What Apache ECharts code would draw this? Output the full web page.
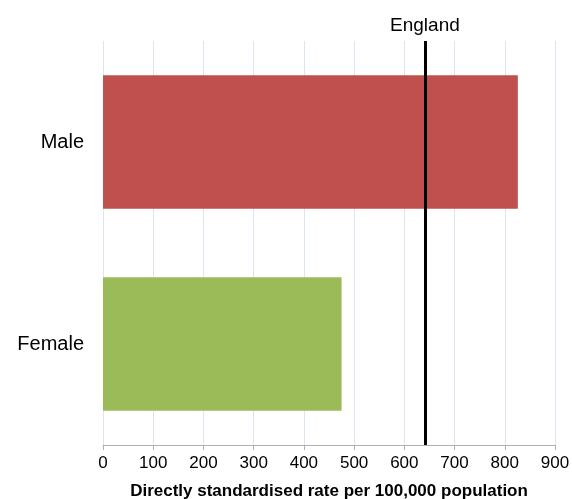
<!DOCTYPE html>
<html>
<head>
<meta charset="utf-8">
<script src="https://cdn.jsdelivr.net/npm/echarts@6/dist/echarts.min.js"></script>
<style>html,body{margin:0;padding:0;background:#fff}#c{width:572px;height:499px}</style>
</head>
<body>
<div id="c"></div>
<script>
var categories = ['Female', 'Male'];
var values = [475, 826];
var barColors = ['#9BBB59', '#C0504D'];
var englandValue = 641;
var englandLabel = 'England';
var axisName = 'Directly standardised rate per 100,000 population';

var chart = echarts.init(document.getElementById('c'));
chart.setOption({
  animation: false,
  textStyle: { fontFamily: 'Liberation Sans, Arial, sans-serif' },
  grid: { left: 103, right: 17, top: 41, bottom: 54, containLabel: false, outerBoundsMode: 'none' },
  xAxis: {
    type: 'value', min: 0, max: 900, interval: 100,
    axisLine: { show: true, lineStyle: { color: '#b0b0b0', width: 1 } },
    axisTick: { show: true, length: 5, lineStyle: { color: '#b0b0b0' } },
    axisLabel: { color: '#000', fontSize: 17, margin: 10 },
    splitLine: { show: true, lineStyle: { color: '#dce6f2', width: 1 } },
    name: axisName, nameLocation: 'middle', nameGap: 38,
    nameTextStyle: { color: '#000', fontSize: 17, fontWeight: 'bold' }
  },
  yAxis: {
    type: 'category', data: categories,
    axisLine: { show: false }, axisTick: { show: false },
    axisLabel: { color: '#000', fontSize: 20, margin: 19 }
  },
  series: [{
    type: 'bar',
    data: values.map(function (v, i) { return { value: v, itemStyle: { color: barColors[i] } }; }),
    barWidth: '66%',
    markLine: {
      symbol: 'none', silent: true,
      lineStyle: { color: '#000', width: 3, type: 'solid' },
      label: { show: true, position: 'end', formatter: englandLabel, color: '#000', fontSize: 19, distance: 6 },
      data: [{ xAxis: englandValue }]
    }
  }]
});
</script>
</body>
</html>
